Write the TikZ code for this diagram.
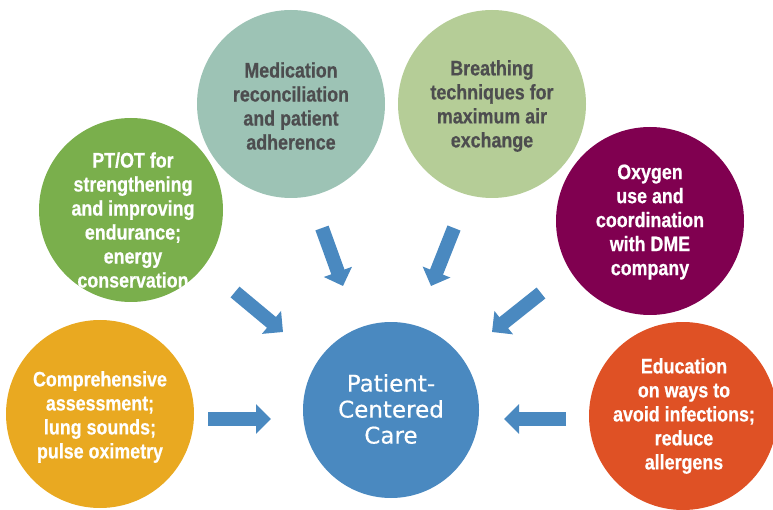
\documentclass[tikz,border=0pt]{standalone}
\usepackage{fontspec}
\usetikzlibrary{arrows.meta}
\newfontfamily\condfont[FakeStretch=0.85,FakeBold=0.6]{Liberation Sans}
\newfontfamily\widefont[FakeBold=0.4]{DejaVu Sans}
\definecolor{cblue}{HTML}{4A89C0}
\definecolor{cyellow}{HTML}{E9A921}
\definecolor{cgreen}{HTML}{7AAF4C}
\definecolor{cteal}{HTML}{9DC3B5}
\definecolor{clgreen}{HTML}{B5CD97}
\definecolor{cpurple}{HTML}{800050}
\definecolor{corange}{HTML}{DF5125}
\definecolor{cdark}{HTML}{4D4D4F}
\begin{document}
\begin{tikzpicture}[x=1pt,y=-1pt,
  bubble/.style={circle, inner sep=0pt, minimum size=188pt, draw=none},
  txt/.style={align=center, text=white, inner sep=0pt,
    font=\condfont\bfseries\fontsize{21}{24}\selectfont},
  dtxt/.style={txt, text=cdark},
  blockarrow/.style={draw=cblue, line width=14pt,
    -{Triangle[length=15pt,width=29pt]}, color=cblue}]
\useasboundingbox (0,0) rectangle (773,510);
% circles
\node[bubble, fill=cyellow] (yel) at (100,414) {};
\node[bubble, fill=cgreen, minimum size=184pt] (grn) at (131,210) {};
\node[bubble, fill=cteal] (teal) at (291,104) {};
\node[bubble, fill=clgreen] (lgr) at (492,104) {};
\node[bubble, fill=cpurple] (pur) at (650,221) {};
\node[bubble, fill=corange] (ora) at (683,416) {};
\node[bubble, fill=cblue, minimum size=176pt] (pcc) at (391,410) {};
% texts
\node[txt] (tyel) at (100,417) {Comprehensive\\assessment;\\lung sounds;\\pulse oximetry};
\node[txt] (tgrn) at (133,220) {PT/OT for\\strengthening\\and improving\\endurance;\\energy\\conservation};
\node[dtxt] (tteal) at (291,106) {Medication\\reconciliation\\and patient\\adherence};
\node[dtxt] (tlgr) at (492,106) {Breathing\\techniques for\\maximum air\\exchange};
\node[txt] (tpur) at (650,222) {Oxygen\\use and\\coordination\\with DME\\company};
\node[txt] (tora) at (684,416) {Education\\on ways to\\avoid infections;\\reduce\\allergens};
\node[align=center, text=white, inner sep=0pt,
  font=\widefont\fontsize{23}{26}\selectfont] (tpcc) at (391,409) {Patient-\\Centered\\Care};
% arrows
\coordinate (a1t) at (208,419); \coordinate (a1h) at (271,419);
\coordinate (a2t) at (235,292); \coordinate (a2h) at (283,332);
\coordinate (a3t) at (322,228); \coordinate (a3h) at (343,286);
\coordinate (a4t) at (454,228); \coordinate (a4h) at (431,286);
\coordinate (a5t) at (541,293); \coordinate (a5h) at (492,332);
\coordinate (a6t) at (566,419); \coordinate (a6h) at (504,419);
\draw[blockarrow] (a1t) -- (a1h);
\draw[blockarrow] (a2t) -- (a2h);
\draw[blockarrow] (a3t) -- (a3h);
\draw[blockarrow] (a4t) -- (a4h);
\draw[blockarrow] (a5t) -- (a5h);
\draw[blockarrow] (a6t) -- (a6h);
\end{tikzpicture}
\end{document}
